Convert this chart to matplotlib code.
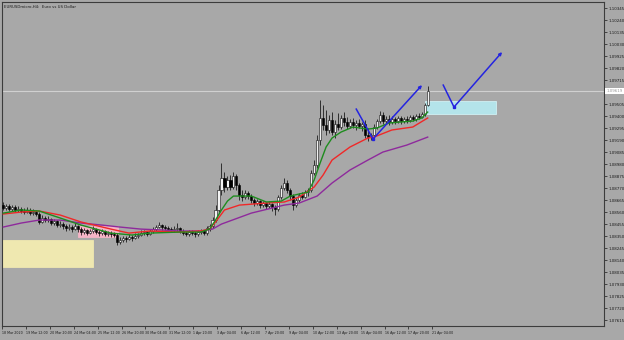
import numpy as np
import matplotlib
matplotlib.use("Agg")
import matplotlib.pyplot as plt
from matplotlib.patches import Rectangle
import matplotlib.transforms as mtransforms

title = "EURUSDmicro,H4:  Euro vs US Dollar"

date_labels = ["18 Mar 2020", "19 Mar 12:00", "20 Mar 20:00", "24 Mar 04:00", "25 Mar 12:00",
               "26 Mar 20:00", "30 Mar 04:00", "31 Mar 12:00", "1 Apr 20:00", "3 Apr 04:00",
               "6 Apr 12:00", "7 Apr 20:00", "9 Apr 04:00", "10 Apr 12:00", "13 Apr 20:00",
               "15 Apr 04:00", "16 Apr 12:00", "17 Apr 20:00", "21 Apr 04:00"]

price_ticks = [1.10345, 1.10240, 1.10135, 1.10030, 1.09925, 1.09820, 1.09715, 1.09505,
               1.09400, 1.09295, 1.09190, 1.09085, 1.08980, 1.08875, 1.08770, 1.08665, 1.08560,
               1.08455, 1.08350, 1.08245, 1.08140, 1.08035, 1.07930, 1.07825, 1.07720, 1.07615]

open_ = [1.08621, 1.08595, 1.08613, 1.08586, 1.08604, 1.08578, 1.08586, 1.08569, 1.08560, 1.08578,
         1.08551, 1.08560, 1.08543, 1.08473, 1.08508, 1.08490, 1.08499, 1.08464, 1.08481, 1.08446,
         1.08455, 1.08438, 1.08420, 1.08429, 1.08411, 1.08438, 1.08411, 1.08385, 1.08403, 1.08376,
         1.08394, 1.08411, 1.08385, 1.08376, 1.08394, 1.08368, 1.08376, 1.08368, 1.08359, 1.08298,
         1.08315, 1.08333, 1.08324, 1.08341, 1.08333, 1.08350, 1.08359, 1.08376, 1.08385, 1.08368,
         1.08394, 1.08411, 1.08429, 1.08446, 1.08429, 1.08420, 1.08411, 1.08403, 1.08411, 1.08420,
         1.08394, 1.08376, 1.08368, 1.08385, 1.08376, 1.08368, 1.08385, 1.08394, 1.08376, 1.08420,
         1.08438, 1.08490, 1.08578, 1.08753, 1.08858, 1.08779, 1.08840, 1.08779, 1.08875, 1.08796,
         1.08709, 1.08691, 1.08726, 1.08700, 1.08665, 1.08639, 1.08656, 1.08621, 1.08639, 1.08613,
         1.08630, 1.08604, 1.08586, 1.08691, 1.08770, 1.08814, 1.08753, 1.08700, 1.08621, 1.08665,
         1.08709, 1.08691, 1.08735, 1.08753, 1.08901, 1.08971, 1.09190, 1.09383, 1.09321, 1.09278,
         1.09365, 1.09260, 1.09330, 1.09304, 1.09383, 1.09348, 1.09313, 1.09348, 1.09321, 1.09339,
         1.09313, 1.09330, 1.09234, 1.09216, 1.09234, 1.09304, 1.09356, 1.09409, 1.09356, 1.09374,
         1.09348, 1.09374, 1.09356, 1.09383, 1.09356, 1.09374, 1.09365, 1.09391, 1.09374, 1.09400,
         1.09391, 1.09418, 1.09496]

high = [1.08648, 1.08630, 1.08630, 1.08621, 1.08621, 1.08613, 1.08604, 1.08595, 1.08604, 1.08595,
        1.08586, 1.08578, 1.08560, 1.08534, 1.08525, 1.08525, 1.08508, 1.08499, 1.08490, 1.08481,
        1.08473, 1.08455, 1.08455, 1.08446, 1.08464, 1.08446, 1.08429, 1.08420, 1.08411, 1.08411,
        1.08438, 1.08420, 1.08403, 1.08411, 1.08403, 1.08394, 1.08394, 1.08385, 1.08376, 1.08341,
        1.08350, 1.08350, 1.08368, 1.08359, 1.08376, 1.08376, 1.08403, 1.08403, 1.08394, 1.08411,
        1.08429, 1.08446, 1.08473, 1.08455, 1.08446, 1.08438, 1.08429, 1.08438, 1.08464, 1.08429,
        1.08411, 1.08394, 1.08403, 1.08403, 1.08394, 1.08403, 1.08411, 1.08403, 1.08438, 1.08455,
        1.08516, 1.08621, 1.08796, 1.08989, 1.08910, 1.08875, 1.08884, 1.08910, 1.08893, 1.08814,
        1.08753, 1.08753, 1.08744, 1.08718, 1.08683, 1.08674, 1.08665, 1.08656, 1.08648, 1.08656,
        1.08639, 1.08621, 1.08709, 1.08796, 1.08858, 1.08840, 1.08770, 1.08718, 1.08683, 1.08726,
        1.08735, 1.08753, 1.08770, 1.08928, 1.09015, 1.09234, 1.09540, 1.09496, 1.09453, 1.09409,
        1.09435, 1.09365, 1.09426, 1.09409, 1.09435, 1.09391, 1.09374, 1.09383, 1.09365, 1.09374,
        1.09348, 1.09365, 1.09295, 1.09251, 1.09330, 1.09374, 1.09444, 1.09435, 1.09400, 1.09409,
        1.09400, 1.09391, 1.09400, 1.09400, 1.09391, 1.09400, 1.09409, 1.09409, 1.09418, 1.09426,
        1.09435, 1.09514, 1.09663]

low = [1.08578, 1.08578, 1.08569, 1.08569, 1.08560, 1.08560, 1.08551, 1.08543, 1.08551, 1.08534,
       1.08534, 1.08525, 1.08455, 1.08464, 1.08473, 1.08473, 1.08446, 1.08446, 1.08429, 1.08429,
       1.08411, 1.08394, 1.08403, 1.08385, 1.08403, 1.08385, 1.08359, 1.08368, 1.08359, 1.08368,
       1.08376, 1.08368, 1.08350, 1.08359, 1.08350, 1.08350, 1.08341, 1.08341, 1.08271, 1.08280,
       1.08298, 1.08298, 1.08315, 1.08306, 1.08324, 1.08333, 1.08350, 1.08359, 1.08350, 1.08359,
       1.08376, 1.08394, 1.08420, 1.08403, 1.08403, 1.08394, 1.08385, 1.08385, 1.08394, 1.08376,
       1.08359, 1.08350, 1.08350, 1.08359, 1.08341, 1.08350, 1.08368, 1.08359, 1.08359, 1.08394,
       1.08420, 1.08473, 1.08560, 1.08709, 1.08735, 1.08753, 1.08753, 1.08761, 1.08753, 1.08665,
       1.08656, 1.08674, 1.08674, 1.08639, 1.08613, 1.08621, 1.08595, 1.08604, 1.08586, 1.08595,
       1.08569, 1.08534, 1.08569, 1.08674, 1.08753, 1.08726, 1.08665, 1.08578, 1.08604, 1.08648,
       1.08674, 1.08683, 1.08700, 1.08735, 1.08884, 1.08945, 1.09146, 1.09278, 1.09234, 1.09251,
       1.09234, 1.09208, 1.09278, 1.09286, 1.09313, 1.09286, 1.09295, 1.09295, 1.09278, 1.09295,
       1.09269, 1.09208, 1.09181, 1.09190, 1.09216, 1.09286, 1.09339, 1.09330, 1.09330, 1.09321,
       1.09330, 1.09330, 1.09339, 1.09330, 1.09339, 1.09339, 1.09348, 1.09356, 1.09356, 1.09374,
       1.09383, 1.09400, 1.09488]

close = [1.08595, 1.08613, 1.08586, 1.08604, 1.08578, 1.08586, 1.08569, 1.08560, 1.08578, 1.08551,
         1.08560, 1.08543, 1.08473, 1.08508, 1.08490, 1.08499, 1.08464, 1.08481, 1.08446, 1.08455,
         1.08438, 1.08420, 1.08429, 1.08411, 1.08438, 1.08411, 1.08385, 1.08403, 1.08376, 1.08394,
         1.08411, 1.08385, 1.08376, 1.08394, 1.08368, 1.08376, 1.08368, 1.08359, 1.08298, 1.08315,
         1.08333, 1.08324, 1.08341, 1.08333, 1.08350, 1.08359, 1.08376, 1.08385, 1.08368, 1.08394,
         1.08411, 1.08429, 1.08446, 1.08429, 1.08420, 1.08411, 1.08403, 1.08411, 1.08420, 1.08394,
         1.08376, 1.08368, 1.08385, 1.08376, 1.08368, 1.08385, 1.08394, 1.08376, 1.08420, 1.08438,
         1.08490, 1.08578, 1.08753, 1.08858, 1.08779, 1.08840, 1.08779, 1.08875, 1.08796, 1.08709,
         1.08691, 1.08726, 1.08700, 1.08665, 1.08639, 1.08656, 1.08621, 1.08639, 1.08613, 1.08630,
         1.08604, 1.08586, 1.08691, 1.08770, 1.08814, 1.08753, 1.08700, 1.08621, 1.08665, 1.08709,
         1.08691, 1.08735, 1.08753, 1.08901, 1.08971, 1.09190, 1.09383, 1.09321, 1.09278, 1.09365,
         1.09260, 1.09330, 1.09304, 1.09383, 1.09348, 1.09313, 1.09348, 1.09321, 1.09339, 1.09313,
         1.09330, 1.09234, 1.09216, 1.09234, 1.09304, 1.09356, 1.09409, 1.09356, 1.09374, 1.09348,
         1.09374, 1.09356, 1.09383, 1.09356, 1.09374, 1.09365, 1.09391, 1.09374, 1.09400, 1.09391,
         1.09418, 1.09496, 1.09619]

# moving averages (read at selected bars)
ma_fast_bar = [0, 6, 12, 19, 26, 36, 43, 49, 59, 66, 69, 71, 73, 75, 77, 83, 88, 93, 96, 99,
               102, 104, 106, 108, 110, 113, 117, 122, 125, 129, 133, 137, 140, 142]
ma_fast = [1.08551, 1.08578, 1.08569, 1.08508, 1.08446, 1.08376, 1.08359, 1.08376, 1.08385, 1.08385,
           1.08411, 1.08490, 1.08578, 1.08656, 1.08700, 1.08700, 1.08648, 1.08656, 1.08700, 1.08718,
           1.08735, 1.08840, 1.08989, 1.09129, 1.09208, 1.09260, 1.09304, 1.09286, 1.09295, 1.09339,
           1.09348, 1.09356, 1.09383, 1.09435]
ma_mid_bar = [0, 6, 12, 19, 26, 36, 42, 49, 59, 66, 69, 71, 74, 79, 88, 94, 99, 104, 107, 110,
              116, 122, 124, 130, 137, 142]
ma_mid = [1.08543, 1.08560, 1.08569, 1.08534, 1.08473, 1.08411, 1.08376, 1.08394, 1.08385, 1.08394,
          1.08411, 1.08473, 1.08578, 1.08621, 1.08639, 1.08648, 1.08691, 1.08779, 1.08884, 1.09015,
          1.09129, 1.09208, 1.09216, 1.09278, 1.09304, 1.09383]
ma_slow_bar = [0, 6, 12, 19, 26, 33, 39, 46, 53, 59, 66, 70, 73, 83, 94, 99, 105, 110, 116, 122,
               127, 135, 142]
ma_slow = [1.08429, 1.08464, 1.08490, 1.08490, 1.08464, 1.08446, 1.08429, 1.08411, 1.08403, 1.08394,
           1.08394, 1.08411, 1.08455, 1.08551, 1.08621, 1.08639, 1.08700, 1.08814, 1.08928, 1.09015,
           1.09085, 1.09146, 1.09216]

# hand-drawn annotations (bar index, price)
arrow1_bar = [118.1, 123.7, 140.1]
arrow1_price = [1.09461, 1.09199, 1.09671]
arrow2_bar = [147.2, 150.8, 166.9]
arrow2_price = [1.09671, 1.09479, 1.09960]

# zones: (bar_start, bar_end, price_low, price_high)
zone_cyan = (141.1, 164.9, 1.09418, 1.09531)
zone_pink = (25.1, 38.5, 1.08341, 1.08438)
zone_yellow = (-0.5, 30.1, 1.08079, 1.08315)

current_price = 1.09619

BG = "#a8a8a8"
fig = plt.figure(figsize=(6.24, 3.40), dpi=100, facecolor=BG)
ax = fig.add_axes([2 / 624, 14 / 340, 602 / 624, 324 / 340])
ax.set_facecolor(BG)

x = np.arange(len(close))
o = np.array(open_); c = np.array(close); h = np.array(high); l = np.array(low)

# zones
for (x0, x1, y0, y1), fc, ec in [(zone_yellow, "#efe8b0", "#efe8b0"),
                                  (zone_pink, "#f6b4c6", "#f6b4c6"),
                                  (zone_cyan, "#b4e4ea", "#d0f0f4")]:
    ax.add_patch(Rectangle((x0, y0), x1 - x0, y1 - y0, facecolor=fc, edgecolor=ec,
                           linewidth=0.6, zorder=1))

# current price line
ax.axhline(current_price, color="#d0d0d0", lw=0.8, zorder=1.5)

# candles
ax.vlines(x, l, h, color="#101010", lw=0.55, zorder=3)
up = c >= o
body_bottom = np.minimum(o, c)
body_h = np.maximum(np.abs(c - o), 0.00002)
ax.bar(x[up], body_h[up], bottom=body_bottom[up], width=0.7, color="#f2f2f2",
       edgecolor="#101010", linewidth=0.4, zorder=4)
ax.bar(x[~up], body_h[~up], bottom=body_bottom[~up], width=0.7, color="#000000",
       edgecolor="#000000", linewidth=0.4, zorder=4)

# moving averages
ax.plot(ma_slow_bar, ma_slow, color="#8e2a9c", lw=1.0, zorder=5)
ax.plot(ma_mid_bar, ma_mid, color="#f02828", lw=1.0, zorder=5)
ax.plot(ma_fast_bar, ma_fast, color="#1e8c1e", lw=1.0, zorder=5)

# blue arrows
for bx, by in [(arrow1_bar, arrow1_price), (arrow2_bar, arrow2_price)]:
    ax.plot(bx[:2], by[:2], color="#2424e0", lw=1.1, zorder=6)
    ax.plot(bx[1], by[1], marker="s", ms=1.6, color="#2424e0", zorder=6)
    ax.annotate("", xy=(bx[2], by[2]), xytext=(bx[1], by[1]),
                arrowprops=dict(arrowstyle="-|>", color="#2424e0", lw=1.1,
                                mutation_scale=4, shrinkA=0, shrinkB=0), zorder=6)

ax.set_xlim(-0.4, 201)
ax.set_ylim(1.07563, 1.10398)

# axes styling
for s in ax.spines.values():
    s.set_color("#3c3c3c")
    s.set_linewidth(0.8)

ax.yaxis.tick_right()
ax.set_yticks(price_ticks)
ax.set_yticklabels([f"{v:.5f}" for v in price_ticks])
ax.tick_params(axis="y", direction="out", length=2.2, width=0.5, pad=1.2,
               labelsize=2.9, colors="#1a1a1a")

tick_pos = np.arange(len(date_labels)) * 8 - 0.45
ax.set_xticks(tick_pos)
ax.set_xticklabels(date_labels)
ax.tick_params(axis="x", direction="out", length=2.5, width=0.5, pad=1.2,
               labelsize=2.3, colors="#1a1a1a")
for t in ax.get_xticklabels():
    t.set_ha("left")

# title
ax.text(0.003, 0.992, title, transform=ax.transAxes, fontsize=2.8, color="#1a1a1a",
        ha="left", va="top")

# current price label
trans = mtransforms.blended_transform_factory(ax.transAxes, ax.transData)
ax.text(1.004, current_price, f"{current_price:.5f}", transform=trans, fontsize=2.9,
        color="#9a9a9a", ha="left", va="center", clip_on=False,
        bbox=dict(boxstyle="square,pad=0.25", facecolor="white", edgecolor="none"))

fig.savefig("out.png", dpi=100, facecolor=BG)
